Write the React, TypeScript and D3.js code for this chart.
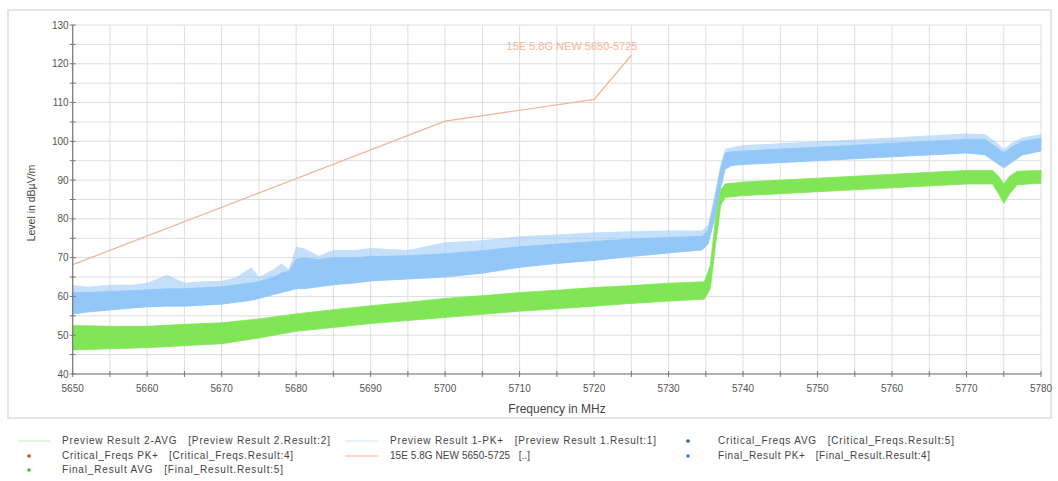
import React from "react";
import * as d3 from "d3";

// Limit line 15E 5.8G NEW 5650-5725
const limitFreq = [5650, 5700, 5720, 5725];
const limitLevel = [68.2, 105.2, 110.8, 122.2];

// Preview Result 1-PK+ (blue): frequency, spike peaks, dense core top, lower edge (dBµV/m)
const pkFreq = [5650, 5652, 5655, 5658, 5660, 5662.7, 5665, 5668, 5670, 5672, 5674, 5675, 5677, 5678, 5679, 5680, 5681, 5683, 5685, 5688, 5690, 5695, 5700, 5705, 5710, 5715, 5720, 5725, 5730, 5734.5, 5735.3, 5736.2, 5737, 5737.6, 5738.5, 5740, 5745, 5750, 5755, 5760, 5765, 5770, 5772.5, 5774, 5775, 5776, 5777.5, 5780];
const pkPeak = [63, 62.5, 63, 63, 63.5, 65.5, 63.5, 64, 64, 65, 67.5, 65, 67, 68.5, 67, 72.8, 72.5, 70.5, 72, 72, 72.5, 72, 74, 74.5, 75.5, 76, 76.5, 76.8, 77, 77, 78.5, 86.5, 94.5, 98, 98.5, 99, 99.5, 100, 100.5, 101, 101.5, 102, 101.8, 99.8, 98, 99.5, 101, 101.8];
const pkCore = [61, 61, 61.3, 61.5, 61.7, 62, 62, 62.3, 62.5, 63, 63.5, 63.8, 65, 66, 66.5, 69.5, 70, 69.5, 70, 70, 70.3, 70.5, 71, 71.8, 72.8, 73.5, 74.2, 74.8, 75.2, 75.5, 77, 85, 93, 97, 97.3, 97.5, 98, 98.5, 99, 99.5, 100, 100.5, 100.5, 98.5, 97, 98.5, 100, 100.8];
const pkLower = [55.5, 56, 56.5, 57, 57.3, 57.5, 57.5, 57.8, 58, 58.5, 59, 59.5, 60.5, 61, 61.5, 62, 62, 62.5, 63, 63.5, 64, 64.5, 65, 66, 67.5, 68.5, 69.3, 70.3, 71.2, 72, 73.5, 80, 88, 92.8, 93.8, 94, 94.5, 95, 95.5, 96, 96.5, 97, 96.5, 94.5, 93.2, 94.5, 96.5, 97.5];

// Preview Result 2-AVG (green) envelope
const avFreq = [5650, 5655, 5660, 5665, 5670, 5675, 5680, 5685, 5690, 5695, 5700, 5705, 5710, 5715, 5720, 5725, 5730, 5734.8, 5735.6, 5736.3, 5737, 5737.6, 5740, 5750, 5760, 5770, 5773.5, 5774.3, 5775, 5775.8, 5776.8, 5780];
const avUpper = [52.5, 52.3, 52.3, 52.8, 53.2, 54.2, 55.5, 56.6, 57.6, 58.5, 59.5, 60.2, 61, 61.6, 62.3, 62.8, 63.4, 63.8, 68, 80, 87.5, 89, 89.5, 90.5, 91.5, 92.5, 92.5, 91, 89, 91, 92.3, 92.5];
const avLower = [46.2, 46.5, 46.8, 47.3, 47.8, 49.3, 51, 52, 53, 53.8, 54.6, 55.4, 56.2, 56.8, 57.5, 58.2, 58.8, 59.3, 62, 73, 83.5, 85.5, 86, 87, 88, 89, 89, 86.5, 84, 86.5, 88.8, 89.2];

const yTickValues = [40, 50, 60, 70, 80, 90, 100, 110, 120, 130];
const xTickValues = [5650, 5660, 5670, 5680, 5690, 5700, 5710, 5720, 5730, 5740, 5750, 5760, 5770, 5780];

const legendEntries = [
  "Preview Result 2-AVG   [Preview Result 2.Result:2]",
  "Preview Result 1-PK+   [Preview Result 1.Result:1]",
  "Critical_Freqs AVG   [Critical_Freqs.Result:5]",
  "Critical_Freqs PK+   [Critical_Freqs.Result:4]",
  "15E 5.8G NEW 5650-5725   [..]",
  "Final_Result PK+   [Final_Result.Result:4]",
  "Final_Result AVG   [Final_Result.Result:5]",
];

const BLUE = "#93c7f7";
const GREEN = "#80e655";
const ORANGE = "#f2b294";

type Band = { f: number; hi: number; lo: number };

export default function App() {
  const x = d3.scaleLinear().domain([5650, 5780]).range([72.7, 1041]);
  const y = d3.scaleLinear().domain([40, 130]).range([374, 25]);
  const gridX = d3.range(5650, 5781, 5);
  const gridY = d3.range(40, 131, 5);

  const pkPeakData: Band[] = pkFreq.map((f, i) => ({ f, hi: pkPeak[i], lo: pkLower[i] }));
  const pkCoreData: Band[] = pkFreq.map((f, i) => ({ f, hi: pkCore[i], lo: pkLower[i] }));
  const avData: Band[] = avFreq.map((f, i) => ({ f, hi: avUpper[i], lo: avLower[i] }));
  const area = d3
    .area<Band>()
    .x((d) => x(d.f))
    .y0((d) => y(d.lo))
    .y1((d) => y(d.hi));
  const limitLine = d3
    .line<number>()
    .x((_, i) => x(limitFreq[i]))
    .y((d) => y(d));

  const font = "'Liberation Sans', Arial, sans-serif";
  const textCol = "#555";

  // legend layout: [x, length, baselineY]
  const legendLayout = [
    [62, 268, 444],
    [390, 266, 444],
    [718, 236, 444],
    [62, 231, 459],
    [390, 140, 459],
    [718, 212, 459],
    [62, 221, 473],
  ];

  return (
    <svg
      width={1058}
      height={481}
      style={{ position: "absolute", left: 0, top: 0, background: "#fff" }}
      fontFamily={font}
    >
      <rect x={8} y={10} width={1043} height={408} fill="none" stroke="#dcdcdc" strokeWidth={1.5} />
      {gridX.map((g) => (
        <line key={"gx" + g} x1={x(g)} x2={x(g)} y1={y(130)} y2={y(40)} stroke="#dedede" strokeWidth={1} />
      ))}
      {gridY.map((g) => (
        <line key={"gy" + g} x1={x(5650)} x2={x(5780)} y1={y(g)} y2={y(g)} stroke="#dedede" strokeWidth={1} />
      ))}
      <path d={area(pkPeakData) || ""} fill={BLUE} fillOpacity={0.55} />
      <path d={area(pkCoreData) || ""} fill={BLUE} stroke={BLUE} strokeWidth={0.8} />
      <path d={area(avData) || ""} fill={GREEN} stroke={GREEN} strokeWidth={0.8} />
      <path d={limitLine(limitLevel) || ""} fill="none" stroke={ORANGE} strokeWidth={1.2} />
      <text x={572} y={50} fontSize={11} fill="#f3b59a" textAnchor="middle">
        15E 5.8G NEW 5650-5725
      </text>
      {/* axes */}
      <line x1={x(5650)} x2={x(5650)} y1={y(130)} y2={y(40)} stroke="#777" strokeWidth={1.2} />
      <line x1={x(5650)} x2={x(5780)} y1={y(40)} y2={y(40)} stroke="#777" strokeWidth={1.2} />
      {gridY.map((g) => (
        <line key={"ty" + g} x1={x(5650) - 3} x2={x(5650) + 3} y1={y(g)} y2={y(g)} stroke="#777" strokeWidth={1} />
      ))}
      {gridX.map((g) => (
        <line key={"tx" + g} x1={x(g)} x2={x(g)} y1={y(40) - 3} y2={y(40) + 3} stroke="#777" strokeWidth={1} />
      ))}
      {yTickValues.map((v) => (
        <text key={"yl" + v} x={x(5650) - 4} y={y(v) + 3.5} fontSize={10} fill={textCol} textAnchor="end">
          {v}
        </text>
      ))}
      {xTickValues.map((v) => (
        <text key={"xl" + v} x={x(v)} y={392} fontSize={10} fill={textCol} textAnchor="middle">
          {v}
        </text>
      ))}
      <text x={557} y={413} fontSize={12} fill="#444" textAnchor="middle">
        Frequency in MHz
      </text>
      <text transform="translate(35,203) rotate(-90)" fontSize={10.5} fill="#444" textAnchor="middle">
        Level in dBµV/m
      </text>
      {/* legend */}
      <line x1={18} x2={50} y1={441} y2={441} stroke="#cfeec0" strokeWidth={1.2} />
      <line x1={345} x2={378} y1={441} y2={441} stroke="#cfe3f5" strokeWidth={1.2} />
      <line x1={345} x2={378} y1={456} y2={456} stroke={ORANGE} strokeWidth={1.2} />
      <circle cx={29} cy={456} r={1.8} fill="#d84040" />
      <circle cx={29} cy={470} r={1.8} fill="#40c040" />
      <circle cx={688} cy={441} r={1.8} fill="#2255bb" />
      <circle cx={688} cy={456} r={1.8} fill="#3377cc" />
      {legendEntries.map((t, i) => {
        const [lx, ll, ly] = legendLayout[i];
        return (
          <text
            key={"lg" + i}
            x={lx}
            y={ly}
            fontSize={10}
            fill="#444"
            textLength={ll}
            lengthAdjust="spacing"
            style={{ whiteSpace: "pre" }}
          >
            {t}
          </text>
        );
      })}
    </svg>
  );
}
